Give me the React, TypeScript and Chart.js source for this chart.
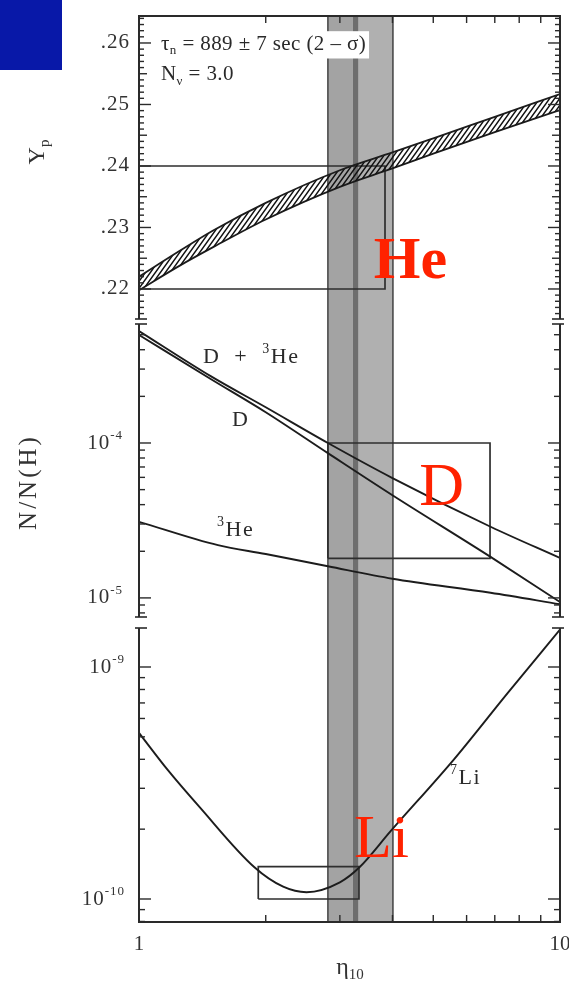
import React, { useEffect, useRef } from 'react';
import { Chart, registerables } from 'chart.js';

Chart.register(...registerables);

// ---------------- data ----------------
const xRange = [1, 10];
const xMinorTicks = [2, 3, 4, 5, 6, 7, 8, 9];
const xTickValues = [1, 10];
const xTickLabels = ['1', '10'];

// shaded eta_10 band (and its darker core)
const bandEta = [2.81, 4.01];
const bandCoreEta = [3.22, 3.32];

// Helium panel
const heRange = [0.21463, 0.26455];
const heTickValues = [0.22, 0.23, 0.24, 0.25, 0.26];
const heTickLabels = ['.22', '.23', '.24', '.25', '.26'];
const heEta = [1, 1.25, 1.5, 2, 3, 4, 5, 7, 10];
const heUpper = [0.222, 0.2262, 0.2295, 0.234, 0.2393, 0.2422, 0.2445, 0.248, 0.2517];
const heLower = [0.2198, 0.2238, 0.2268, 0.2313, 0.2366, 0.2396, 0.242, 0.2455, 0.2491];
const heBoxEta = [1, 3.84];
const heBoxY = [0.22, 0.24];

// D / 3He panel
const dRange = [6.99e-6, 6.04e-4];
const dTickValues = [1e-5, 1e-4];
const dTickExps = ['-5', '-4'];
const dEta = [1, 1.48, 2, 2.81, 4.0, 6.84, 10];
const dPlusHe3 = [5.28e-4, 2.7e-4, 1.7e-4, 1.0e-4, 5.94e-5, 2.88e-5, 1.81e-5];
const dOnly = [4.98e-4, 2.59e-4, 1.58e-4, 8.6e-5, 4.6e-5, 1.84e-5, 9.4e-6];
const he3Eta = [1, 1.54, 2, 2.81, 4.0, 6.84, 10];
const he3 = [3.1e-5, 2.19e-5, 1.92e-5, 1.6e-5, 1.33e-5, 1.08e-5, 9.1e-6];
const dBoxEta = [2.81, 6.82];
const dBoxY = [1.8e-5, 1.0e-4];

// 7Li panel
const liRange = [7.88e-11, 1.563e-9];
const liTickValues = [1e-10, 1e-9];
const liTickExps = ['-10', '-9'];
const liEta = [1, 1.17, 1.39, 1.88, 2.2, 2.5, 3.0, 3.34, 3.96, 5.6, 7.5, 10];
const li7 = [5.2e-10, 3.6e-10, 2.5e-10, 1.37e-10, 1.13e-10, 1.07e-10, 1.18e-10, 1.37e-10, 1.96e-10, 4.0e-10, 7.7e-10, 1.45e-9];
const liBoxEta = [1.92, 3.33];
const liBoxY = [1.0e-10, 1.38e-10];

// ---------------- styling ----------------
const SERIF = "'Liberation Serif', 'DejaVu Serif', 'Times New Roman', serif";
const INK = '#2a2a2a';
const RED = '#ff2200';
const W = 569;

type Seg = { t: string; k?: 'sub' | 'sup' };
type TextOpts = {
  size: number;
  weight?: string;
  color?: string;
  align?: 'left' | 'right' | 'center';
  baseline?: CanvasTextBaseline;
  spacing?: number;
  bg?: string;
};

function drawRich(ctx: CanvasRenderingContext2D, x: number, y: number, segs: Seg[], o: TextOpts) {
  const sp = o.spacing ?? 0;
  ctx.save();
  const parts = segs.map((s) => {
    const sz = s.k ? Math.round(o.size * 0.62) : o.size;
    ctx.font = `${o.weight ?? 'normal'} ${sz}px ${SERIF}`;
    (ctx as any).letterSpacing = `${sp}px`;
    return { ...s, sz, w: ctx.measureText(s.t).width };
  });
  const total = parts.reduce((a, p) => a + p.w, 0);
  let cx = o.align === 'right' ? x - total : o.align === 'center' ? x - total / 2 : x;
  if (o.bg) {
    ctx.fillStyle = o.bg;
    ctx.fillRect(cx - 3, y - o.size * 0.62, total + 6, o.size * 1.3);
  }
  ctx.fillStyle = o.color ?? INK;
  ctx.textAlign = 'left';
  ctx.textBaseline = o.baseline ?? 'middle';
  for (const p of parts) {
    ctx.font = `${o.weight ?? 'normal'} ${p.sz}px ${SERIF}`;
    (ctx as any).letterSpacing = `${sp}px`;
    const dy = p.k === 'sub' ? o.size * 0.3 : p.k === 'sup' ? -o.size * 0.36 : 0;
    ctx.fillText(p.t, cx, y + dy);
    cx += p.w;
  }
  ctx.restore();
}

type Tick = { v: number; len: number };
type PanelCfg = {
  yTicks: Tick[];
  yLabels: { v: number; segs: Seg[]; pad: number }[];
  gapTop: number;
  gapBottom: number;
  breakTop?: number[];
  breakBottom?: number[];
  topAxis?: boolean;
  bottomAxis?: boolean;
  notes: { x: number; y: number; segs: Seg[]; o: TextOpts }[];
  titles: { px: number; py: number; rot: number; segs: Seg[]; o: TextOpts }[];
};

function makeDeco(cfg: PanelCfg) {
  return {
    id: 'deco',
    afterDatasetsDraw(chart: any) {
      const ctx: CanvasRenderingContext2D = chart.ctx;
      const { left, right, top, bottom } = chart.chartArea;
      const xs = chart.scales.x;
      const ys = chart.scales.y;
      const line = (x1: number, y1: number, x2: number, y2: number) => {
        ctx.beginPath();
        ctx.moveTo(x1, y1);
        ctx.lineTo(x2, y2);
        ctx.stroke();
      };
      ctx.save();
      // annotations first (white boxes under ticks)
      for (const n of cfg.notes) {
        drawRich(ctx, xs.getPixelForValue(n.x), ys.getPixelForValue(n.y), n.segs, n.o);
      }
      ctx.strokeStyle = INK;
      ctx.lineCap = 'butt';
      // frame
      ctx.lineWidth = 2;
      const y0 = top + cfg.gapTop;
      const y1 = bottom - cfg.gapBottom;
      line(left, y0, left, y1);
      line(right, y0, right, y1);
      if (cfg.topAxis) line(left - 1, top + 1, right + 1, top + 1);
      if (cfg.bottomAxis) line(left - 1, bottom - 1, right + 1, bottom - 1);
      // break marks
      ctx.lineWidth = 1.6;
      for (const off of cfg.breakTop ?? []) {
        line(left - 4, top + off, left + 8, top + off);
        line(right - 8, top + off, right + 4, top + off);
      }
      for (const off of cfg.breakBottom ?? []) {
        line(left - 4, bottom - off, left + 8, bottom - off);
        line(right - 8, bottom - off, right + 4, bottom - off);
      }
      // y ticks (inward, both sides)
      ctx.lineWidth = 1.4;
      for (const t of cfg.yTicks) {
        const p = ys.getPixelForValue(t.v);
        if (p < y0 + 1 || p > y1 - 1) continue;
        line(left, p, left + t.len, p);
        line(right, p, right - t.len, p);
      }
      // x ticks
      for (const v of xMinorTicks) {
        const px = xs.getPixelForValue(v);
        if (cfg.topAxis) line(px, top, px, top + 8);
        if (cfg.bottomAxis) line(px, bottom, px, bottom - 8);
      }
      // y tick labels
      for (const l of cfg.yLabels) {
        drawRich(ctx, left - l.pad, ys.getPixelForValue(l.v), l.segs, {
          size: 21,
          align: 'right',
          spacing: 1,
          color: '#333',
        });
      }
      // axis titles
      for (const t of cfg.titles) {
        ctx.save();
        ctx.translate(t.px, t.py);
        ctx.rotate(t.rot);
        drawRich(ctx, 0, 0, t.segs, t.o);
        ctx.restore();
      }
      ctx.restore();
    },
  };
}

// ---------------- helpers ----------------
const pts = (xs: number[], ys: number[]) => xs.map((x, i) => ({ x, y: ys[i] }));
const rect = (xs: number[], ys: number[]) => [
  { x: xs[0], y: ys[0] },
  { x: xs[1], y: ys[0] },
  { x: xs[1], y: ys[1] },
  { x: xs[0], y: ys[1] },
  { x: xs[0], y: ys[0] },
];

function logTicks(exps: number[]): Tick[] {
  const out: Tick[] = [];
  for (const e of exps) for (let m = 1; m <= 9; m++) out.push({ v: m * Math.pow(10, e), len: m === 1 ? 12 : 6 });
  return out;
}
function heTicks(): Tick[] {
  const out: Tick[] = [];
  for (let k = 215; k <= 264; k++) out.push({ v: k / 1000, len: k % 10 === 0 ? 12 : k % 5 === 0 ? 8 : 5 });
  return out;
}

const none = 'rgba(0,0,0,0)';

function bandSets(yr: number[]) {
  const topY = yr[1];
  const base = { type: 'line', pointRadius: 0, borderWidth: 0, borderColor: none, tension: 0, fill: 'start' };
  const edge = (x: number) => ({
    type: 'line',
    data: [
      { x, y: yr[0] },
      { x, y: yr[1] },
    ],
    borderColor: '#4a4a4a',
    borderWidth: 1.6,
    pointRadius: 0,
    fill: false,
    order: 7,
  });
  return [
    { ...base, data: [{ x: bandEta[0], y: topY }, { x: bandEta[1], y: topY }], backgroundColor: '#b0b0b0', order: 10 },
    { ...base, data: [{ x: bandEta[0], y: topY }, { x: bandCoreEta[0], y: topY }], backgroundColor: '#a3a3a3', order: 9 },
    { ...base, data: [{ x: bandCoreEta[0], y: topY }, { x: bandCoreEta[1], y: topY }], backgroundColor: '#6e6e6e', order: 8 },
    edge(bandEta[0]),
    edge(bandEta[1]),
  ];
}

const curve = (data: any[], width = 1.9) => ({
  type: 'line',
  data,
  borderColor: '#1c1c1c',
  borderWidth: width,
  pointRadius: 0,
  fill: false,
  cubicInterpolationMode: 'monotone',
  order: 1,
});
const boxSet = (data: any[]) => ({
  type: 'line',
  data,
  borderColor: '#2e2e2e',
  borderWidth: 1.7,
  pointRadius: 0,
  fill: false,
  tension: 0,
  order: 2,
});

const hiddenX = { type: 'logarithmic', min: xRange[0], max: xRange[1], display: false };
function yAxis(type: string, range: number[]) {
  return {
    type,
    min: range[0],
    max: range[1],
    afterFit: (s: any) => {
      s.width = 139;
    },
    ticks: { display: false },
    grid: { display: false },
    border: { display: false },
  };
}
function baseOptions(yScale: any, xScale: any, padding: any) {
  return {
    responsive: false,
    maintainAspectRatio: false,
    animation: false,
    events: [],
    layout: { padding },
    plugins: { legend: { display: false }, tooltip: { enabled: false } },
    scales: { x: xScale, y: yScale },
  };
}

function hatchPattern(): CanvasPattern | string {
  const c = document.createElement('canvas');
  c.width = 5;
  c.height = 7;
  const g = c.getContext('2d');
  if (!g) return '#555';
  g.strokeStyle = '#111';
  g.lineWidth = 1.5;
  g.beginPath();
  g.moveTo(0, 7);
  g.lineTo(5, 0);
  g.moveTo(-1, 1.4);
  g.lineTo(1, -1.4);
  g.moveTo(4, 8.4);
  g.lineTo(6, 5.6);
  g.stroke();
  return g.createPattern(c, 'repeat') ?? '#555';
}

// ---------------- panels ----------------
function buildHe(): any {
  const cfg: PanelCfg = {
    yTicks: heTicks(),
    yLabels: heTickValues.map((v, i) => ({ v, segs: [{ t: heTickLabels[i] }], pad: 9 })),
    gapTop: 0,
    gapBottom: 3,
    breakBottom: [3],
    topAxis: true,
    notes: [
      {
        x: 1.128,
        y: 0.2598,
        segs: [{ t: 'τ' }, { t: 'n', k: 'sub' }, { t: ' = 889 ± 7 sec (2 – σ)' }],
        o: { size: 21, bg: '#ffffff', spacing: 0.4 },
      },
      { x: 1.128, y: 0.2548, segs: [{ t: 'N' }, { t: 'ν', k: 'sub' }, { t: ' = 3.0' }], o: { size: 21, spacing: 0.4 } },
      { x: 3.61, y: 0.2218, segs: [{ t: 'He' }], o: { size: 60, weight: 'bold', color: RED, baseline: 'alphabetic' } },
    ],
    titles: [
      { px: 38, py: 152, rot: -Math.PI / 2, segs: [{ t: 'Y' }, { t: 'p', k: 'sub' }], o: { size: 24, align: 'center', color: '#333' } },
    ],
  };
  return {
    type: 'line',
    data: {
      datasets: [
        { ...curve(pts(heEta, heUpper), 1.8), fill: '+1', backgroundColor: hatchPattern() },
        curve(pts(heEta, heLower), 1.8),
        boxSet([
          { x: heBoxEta[0], y: heBoxY[1] },
          { x: heBoxEta[1], y: heBoxY[1] },
          { x: heBoxEta[1], y: heBoxY[0] },
          { x: heBoxEta[0], y: heBoxY[0] },
        ]),
        ...bandSets(heRange),
      ],
    },
    options: baseOptions(yAxis('linear', heRange), hiddenX, { top: 15, right: 9, left: 0, bottom: 0 }),
    plugins: [makeDeco(cfg)],
  };
}

function buildD(): any {
  const cfg: PanelCfg = {
    yTicks: logTicks([-6, -5, -4]),
    yLabels: dTickValues.map((v, i) => ({ v, segs: [{ t: '10' }, { t: dTickExps[i], k: 'sup' }], pad: 16 })),
    gapTop: 2,
    gapBottom: 5,
    breakTop: [2],
    breakBottom: [5],
    notes: [
      { x: 1.419, y: 3.59e-4, segs: [{ t: 'D  +  ' }, { t: '3', k: 'sup' }, { t: 'He' }], o: { size: 22, spacing: 1.5 } },
      { x: 1.663, y: 1.41e-4, segs: [{ t: 'D' }], o: { size: 22 } },
      { x: 1.532, y: 2.75e-5, segs: [{ t: '3', k: 'sup' }, { t: 'He' }], o: { size: 22, spacing: 1.5 } },
      { x: 4.63, y: 3.98e-5, segs: [{ t: 'D' }], o: { size: 62, color: RED, baseline: 'alphabetic' } },
    ],
    titles: [
      { px: 29, py: 160, rot: -Math.PI / 2, segs: [{ t: 'N/N(H)' }], o: { size: 25, align: 'center', spacing: 3, color: '#333' } },
    ],
  };
  return {
    type: 'line',
    data: {
      datasets: [
        curve(pts(dEta, dPlusHe3)),
        curve(pts(dEta, dOnly)),
        curve(pts(he3Eta, he3)),
        boxSet(rect(dBoxEta, dBoxY)),
        ...bandSets(dRange),
      ],
    },
    options: baseOptions(yAxis('logarithmic', dRange), hiddenX, { top: 0, right: 9, left: 0, bottom: 0 }),
    plugins: [makeDeco(cfg)],
  };
}

function buildLi(): any {
  const cfg: PanelCfg = {
    yTicks: logTicks([-11, -10, -9]),
    yLabels: liTickValues.map((v, i) => ({ v, segs: [{ t: '10' }, { t: liTickExps[i], k: 'sup' }], pad: 14 })),
    gapTop: 6,
    gapBottom: 0,
    breakTop: [6],
    bottomAxis: true,
    notes: [
      { x: 5.48, y: 3.33e-10, segs: [{ t: '7', k: 'sup' }, { t: 'Li' }], o: { size: 22, spacing: 1.5 } },
      { x: 3.24, y: 1.52e-10, segs: [{ t: 'Li' }], o: { size: 62, color: RED, baseline: 'alphabetic' } },
    ],
    titles: [
      { px: 350, py: 346, rot: 0, segs: [{ t: 'η' }, { t: '10', k: 'sub' }], o: { size: 24, align: 'center', color: '#333' } },
    ],
  };
  const xAxis = {
    type: 'logarithmic',
    min: xRange[0],
    max: xRange[1],
    afterBuildTicks: (s: any) => {
      s.ticks = xTickValues.map((v) => ({ value: v }));
    },
    afterFit: (s: any) => {
      s.height = 68;
      s.paddingLeft = 0;
      s.paddingRight = 0;
    },
    ticks: {
      autoSkip: false,
      maxRotation: 0,
      padding: 9,
      color: '#333',
      font: { family: SERIF, size: 21 },
      callback: (_v: any, i: number) => xTickLabels[i],
    },
    grid: { display: false, drawTicks: false },
    border: { display: false },
  };
  return {
    type: 'line',
    data: {
      datasets: [curve(pts(liEta, li7)), boxSet(rect(liBoxEta, liBoxY)), ...bandSets(liRange)],
    },
    options: baseOptions(yAxis('logarithmic', liRange), xAxis, { top: 0, right: 9, left: 0, bottom: 0 }),
    plugins: [makeDeco(cfg)],
  };
}

function Panel({ top, height, build }: { top: number; height: number; build: () => any }) {
  const ref = useRef<HTMLCanvasElement>(null);
  useEffect(() => {
    if (!ref.current) return;
    const chart = new Chart(ref.current, build());
    return () => chart.destroy();
  }, []);
  return (
    <canvas
      ref={ref}
      width={W}
      height={height}
      style={{ position: 'absolute', left: 0, top, width: W, height, display: 'block' }}
    />
  );
}

export default function App() {
  return (
    <div style={{ position: 'absolute', left: 0, top: 0, width: W, height: 991, background: '#ffffff', overflow: 'hidden' }}>
      <Panel top={0} height={322} build={buildHe} />
      <Panel top={322} height={300} build={buildD} />
      <Panel top={622} height={369} build={buildLi} />
      <div style={{ position: 'absolute', left: 0, top: 0, width: 62, height: 70, background: '#0818a8' }} />
    </div>
  );
}
